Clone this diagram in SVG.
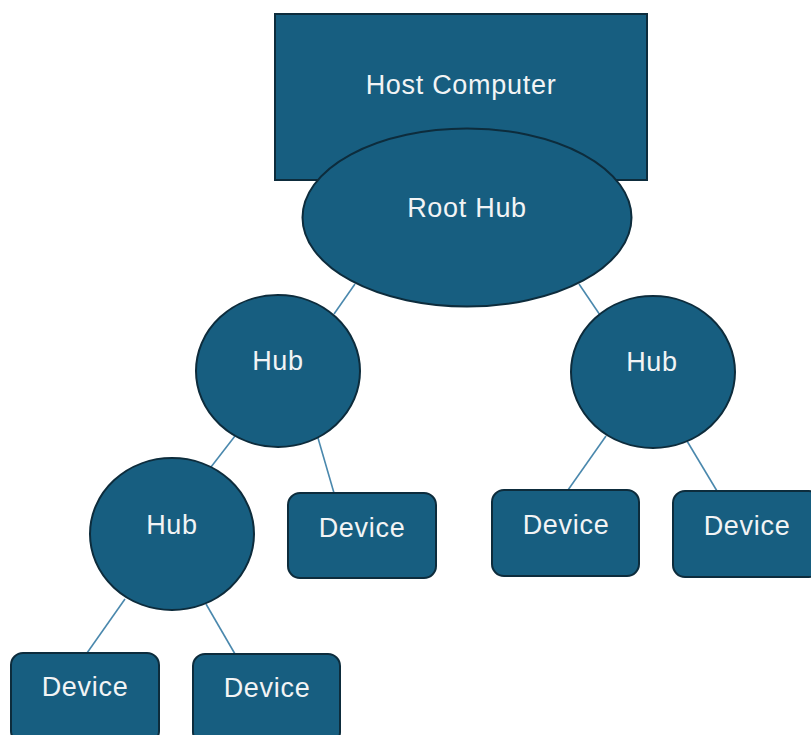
<svg xmlns="http://www.w3.org/2000/svg" width="811" height="735" viewBox="0 0 811 735">
<style>
.n{fill:#175e80;stroke:#0d2c3c;stroke-width:2}
.t{font-family:"Liberation Sans",Arial,sans-serif;font-size:27px;letter-spacing:0.7px;fill:#f2f4f5;text-anchor:middle}
.e{stroke:#4a88ad;stroke-width:1.6;fill:none}
</style>
<rect width="811" height="735" fill="#ffffff"/>
<g id="connectors">
<line class="e" x1="355" y1="284" x2="334" y2="314"/>
<line class="e" x1="579" y1="284" x2="600" y2="315"/>
<line class="e" x1="235" y1="436" x2="211" y2="467"/>
<line class="e" x1="318" y1="438" x2="334" y2="493"/>
<line class="e" x1="606" y1="436" x2="568" y2="490"/>
<line class="e" x1="687" y1="441" x2="717" y2="491"/>
<line class="e" x1="125" y1="599" x2="87" y2="653"/>
<line class="e" x1="206" y1="604" x2="235" y2="654"/>
</g>
<g id="host">
<rect class="n" x="275" y="14" width="372" height="166"/>
<text class="t" x="461" y="94">Host Computer</text>
</g>
<g id="roothub">
<ellipse class="n" cx="467" cy="217.5" rx="164.5" ry="89"/>
<text class="t" x="467" y="217">Root Hub</text>
</g>
<g id="hub1">
<ellipse class="n" cx="278" cy="371" rx="82" ry="76"/>
<text class="t" x="278" y="370">Hub</text>
</g>
<g id="hub2">
<ellipse class="n" cx="653" cy="372" rx="82" ry="76"/>
<text class="t" x="652" y="371">Hub</text>
</g>
<g id="hub3">
<ellipse class="n" cx="172" cy="534" rx="82" ry="76"/>
<text class="t" x="172" y="534">Hub</text>
</g>
<g id="device1">
<rect class="n" x="288" y="493" width="148" height="85" rx="12"/>
<text class="t" x="362" y="537">Device</text>
</g>
<g id="device2">
<rect class="n" x="492" y="490" width="147" height="86" rx="12"/>
<text class="t" x="566" y="534">Device</text>
</g>
<g id="device3">
<rect class="n" x="673" y="491" width="148" height="86" rx="12"/>
<text class="t" x="747" y="535">Device</text>
</g>
<g id="device4">
<rect class="n" x="11" y="653" width="148" height="90" rx="12"/>
<text class="t" x="85" y="696">Device</text>
</g>
<g id="device5">
<rect class="n" x="193" y="654" width="147" height="90" rx="12"/>
<text class="t" x="267" y="697">Device</text>
</g>
</svg>
